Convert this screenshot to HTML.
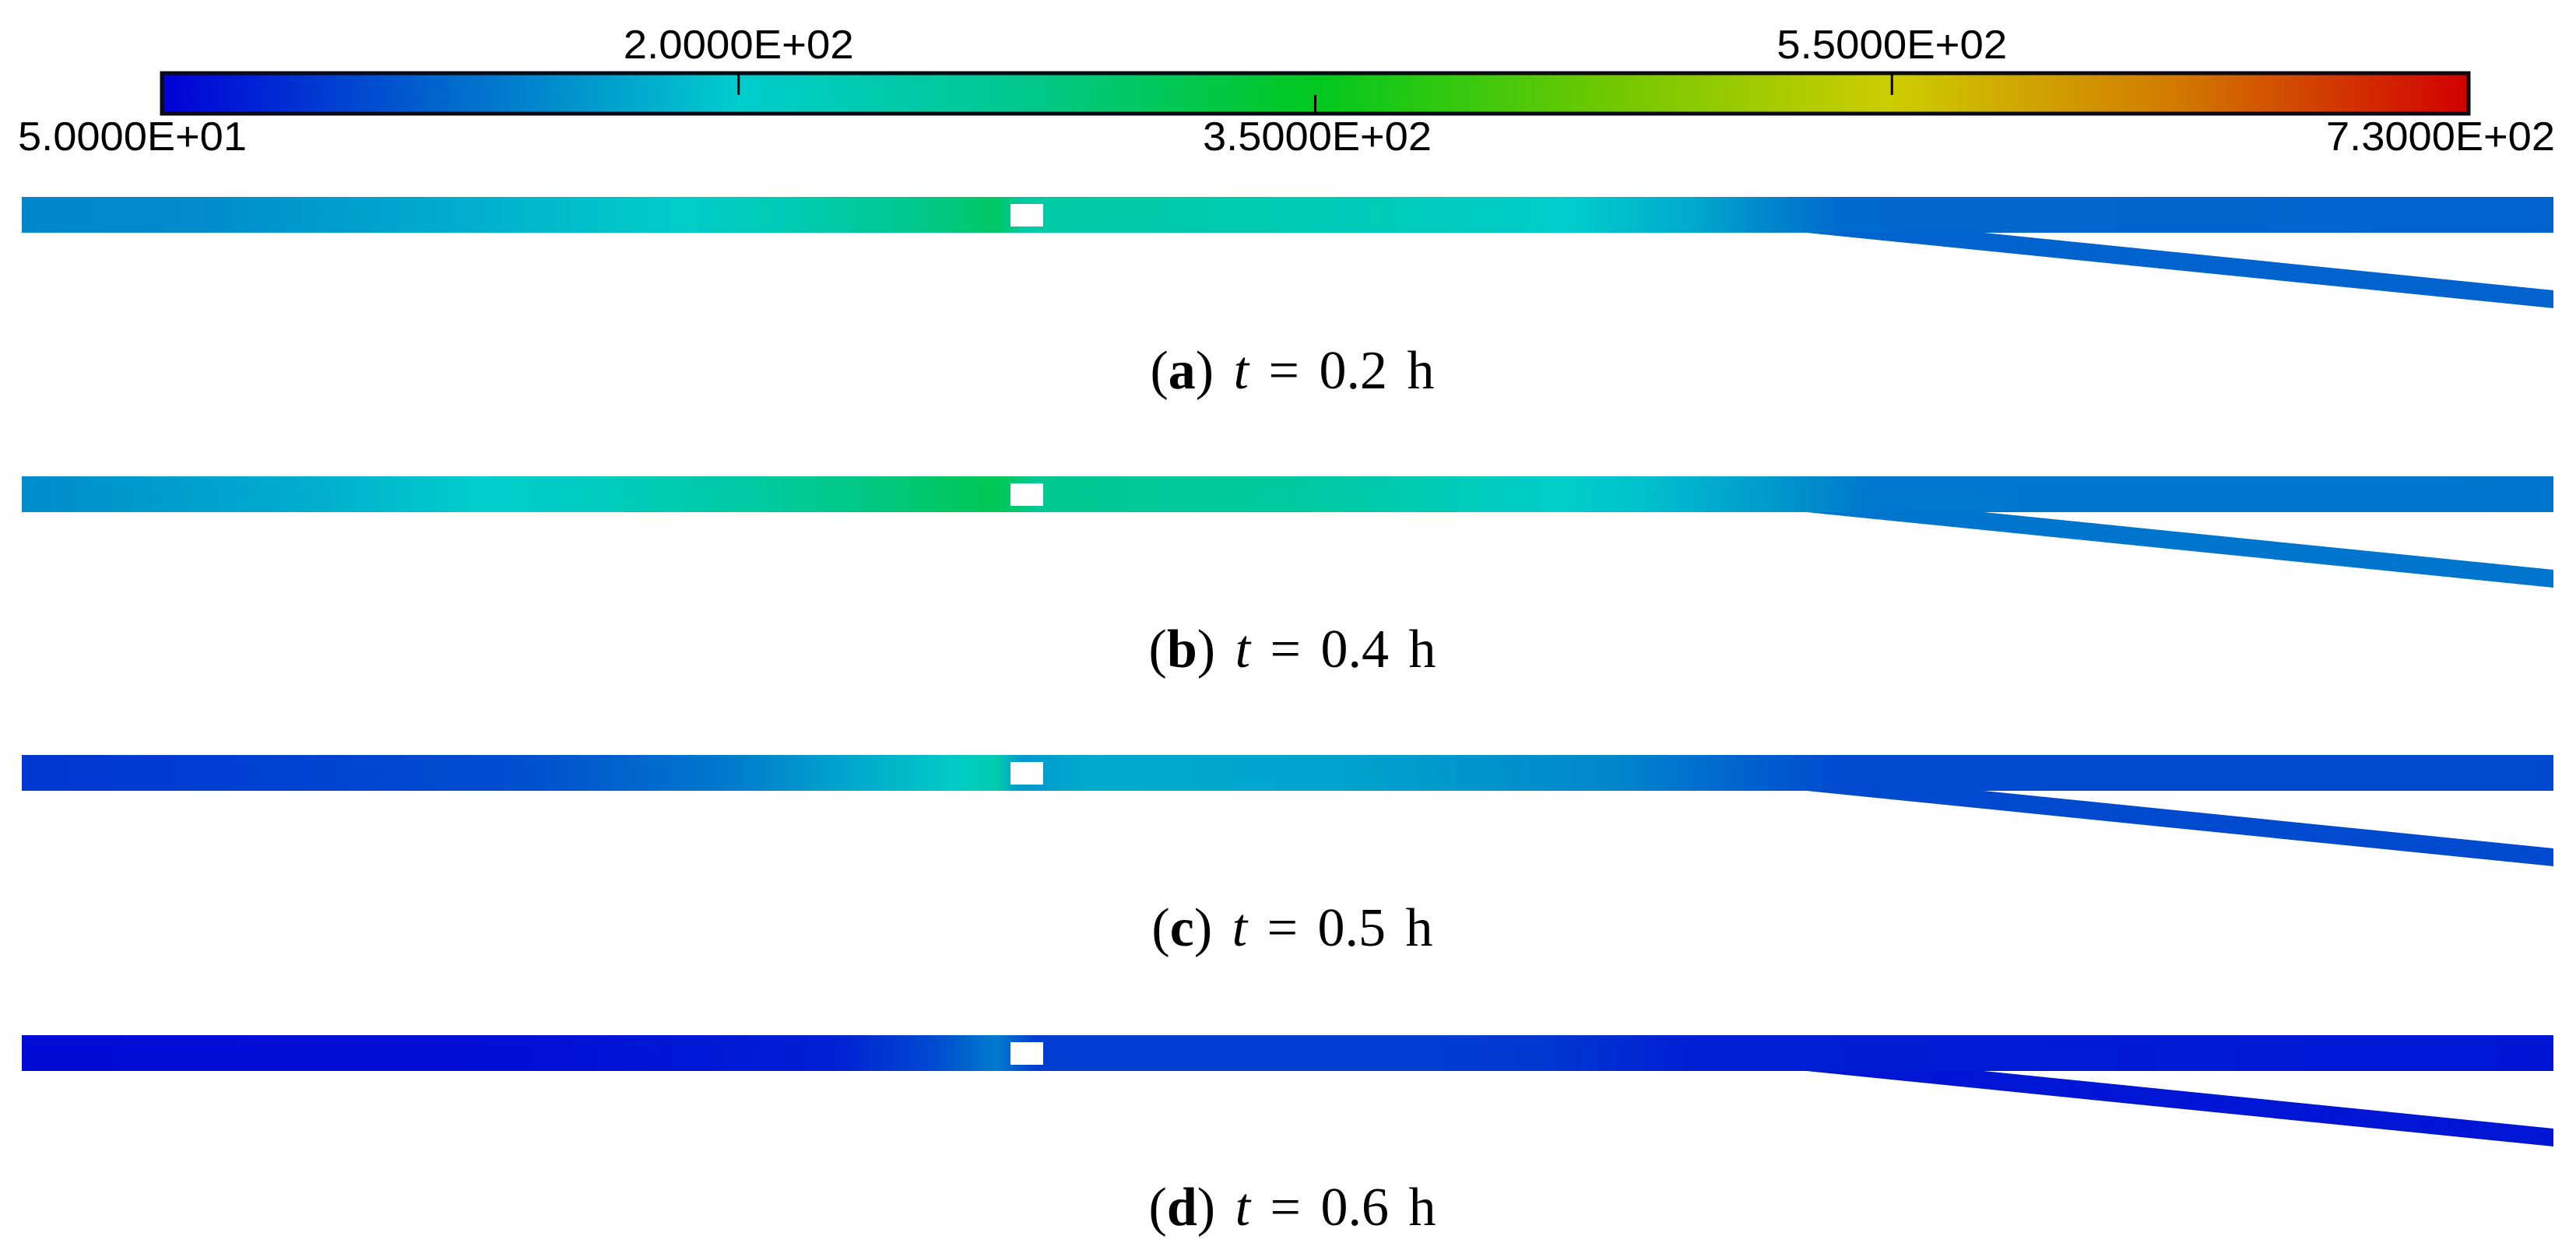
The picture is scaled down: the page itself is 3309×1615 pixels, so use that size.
<!DOCTYPE html>
<html><head><meta charset="utf-8">
<style>
html,body{margin:0;padding:0;background:#fff;}
svg{display:block;}
</style></head>
<body>
<svg id="fig" width="3309" height="1615" viewBox="0 0 3309 1615" xmlns="http://www.w3.org/2000/svg">
<defs id="defs"></defs>
<g id="colorbar"></g>
<g id="strips"></g>
</svg>
<script>
// Colorbar data
const cbMin = 50, cbMax = 730;
const tickLabelsTop = ["2.0000E+02", "5.5000E+02"];
const tickLabelsBottom = ["5.0000E+01", "3.5000E+02", "7.3000E+02"];
const cmapFrac = [0, 0.125, 0.25, 0.375, 0.5, 0.625, 0.75, 0.875, 1];
const cmapColors = [[0,0,215],[0,105,205],[0,205,205],[0,200,140],[0,200,30],[110,200,0],[205,205,0],[210,120,0],[210,0,0]];

// Panel data: distance along pipe (% of length) and temperature
const panelLabels = ["a","b","c","d"];
const panelTimes = ["0.2","0.4","0.5","0.6"];
const distA = [0,7,18,26,30,35,38.5,39.5,45,58,61,66,69,72,100];
const tempA = [160,165,195,225,250,300,335,275,265,235,220,190,160,135,130];
const distB = [0,12,18,22,28,33,38.5,40,50,61,64,70,73,100];
const tempB = [165,195,220,235,270,310,350,300,280,225,210,170,148,145];
const distC = [0,8,20,28,33,37,38.5,39.5,42,52,63,68,72,100];
const tempC = [95,100,115,150,190,230,260,175,190,185,160,130,110,110];
const distD = [0,20,32,36,38.5,40,55,60,66,100];
const tempD = [60,62,75,110,150,100,100,95,75,68];
const panelDist = [distA, distB, distC, distD];
const panelTemp = [tempA, tempB, tempC, tempD];

const NS = "http://www.w3.org/2000/svg";
function mk(tag, attrs, parent){ const e=document.createElementNS(NS,tag); for(const k in attrs) e.setAttribute(k,attrs[k]); if(parent) parent.appendChild(e); return e; }
function fracColor(f){
  f=Math.max(0,Math.min(1,f));
  for(let i=0;i<cmapFrac.length-1;i++){
    if(f<=cmapFrac[i+1]){
      const t=(f-cmapFrac[i])/(cmapFrac[i+1]-cmapFrac[i]);
      const a=cmapColors[i], b=cmapColors[i+1];
      return "rgb("+a.map((v,j)=>Math.round(v+(b[j]-v)*t)).join(",")+")";
    }
  }
  return "rgb(210,0,0)";
}
function valColor(v){ return fracColor((v-cbMin)/(cbMax-cbMin)); }

const defs=document.getElementById("defs");
// colorbar
const cbX0=208, cbX1=3171, cbY0=94, cbY1=146;
const cb=document.getElementById("colorbar");
const cg=mk("linearGradient",{id:"cbgrad",x1:"0",x2:"1",y1:"0",y2:"0"},defs);
cmapFrac.forEach((f,i)=>{ mk("stop",{offset:f,"stop-color":fracColor(f)},cg); });
const cbr=mk("rect",{x:cbX0,y:cbY0,width:cbX1-cbX0,height:cbY1-cbY0,fill:"url(#cbgrad)",stroke:"#0a0a14","stroke-width":5},cb);


function cbx(f){ return cbX0+(cbX1-cbX0)*f; }
const topFr=[0.25,0.75], botFr=[0,0.5,1];
tickLabelsTop.forEach((lab,i)=>{
  const x=cbx(topFr[i]);
  const tk=mk("line",{x1:x,x2:x,y1:cbY0,y2:cbY0+28,stroke:"#000","stroke-width":3},cb);
  
  
  const t=mk("text",{x:x,y:75,"text-anchor":"middle","font-family":"Liberation Sans, sans-serif","font-size":52,textLength:296,lengthAdjust:"spacingAndGlyphs",fill:"#000"},cb);
  t.textContent=lab;
  
  
});
const botX=[170,1692,3135];
tickLabelsBottom.forEach((lab,i)=>{
  if(i===1){
    const x=cbx(botFr[i]);
    const tk=mk("line",{x1:x,x2:x,y1:cbY1-24,y2:cbY1,stroke:"#000","stroke-width":3},cb);
    
    
  }
  const t=mk("text",{x:botX[i],y:193,"text-anchor":"middle","font-family":"Liberation Sans, sans-serif","font-size":52,textLength:294,lengthAdjust:"spacingAndGlyphs",fill:"#000"},cb);
  t.textContent=lab;
  
  
});

// strips
const sx0=28, sx1=3280, sH=46;
const stripTops=[253,612,970,1330];
const capBase=[499,857,1215,1574];
const sg=document.getElementById("strips");
function px(d){ return sx0+(sx1-sx0)*d/100; }
panelLabels.forEach((lab,p)=>{
  const T=stripTops[p];
  const g=mk("g",{},sg);
  
  
  const gr=mk("linearGradient",{id:"g"+p,x1:"0",x2:"1",y1:"0",y2:"0"},defs);
  panelDist[p].forEach((d,i)=>{ mk("stop",{offset:d/100,"stop-color":valColor(panelTemp[p][i])},gr); });
  const last=panelTemp[p][panelTemp[p].length-1];
  const br=mk("polygon",{points:[[px(70.5),T+sH],[sx1,T+sH+97],[sx1,T+sH+74],[px(77.5),T+sH]].map(a=>a.join(",")).join(" "),fill:valColor(last)},g);
  
  
  const r=mk("rect",{x:sx0,y:T,width:sx1-sx0,height:sH,fill:"url(#g"+p+")"},g);
  
  
  const sq=mk("rect",{x:1298,y:T+9,width:42,height:29,fill:"#fff"},g);
  
  
  const t=mk("text",{x:1660,y:capBase[p],"text-anchor":"middle","font-family":"Liberation Serif, serif","font-size":70,"word-spacing":8,fill:"#000"},g);
  
  
  t.innerHTML='(<tspan font-weight="bold">'+lab+'</tspan>) <tspan font-style="italic">t</tspan> = '+panelTimes[p]+' h';
});
</script>
</body></html>
